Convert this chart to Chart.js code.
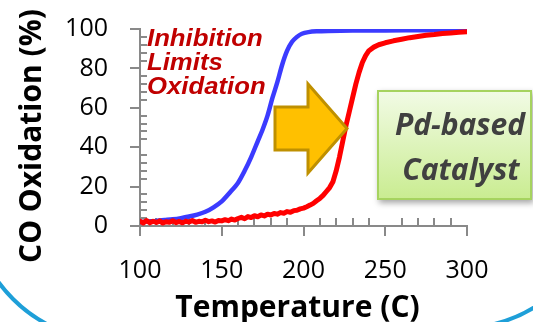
<!DOCTYPE html>
<html>
<head>
<meta charset="utf-8">
<script src="https://cdn.jsdelivr.net/npm/chart.js@4.4.1/dist/chart.umd.min.js"></script>
<style>
  html, body { margin: 0; padding: 0; background: #ffffff; overflow: hidden; }
  #wrap { position: relative; width: 533px; height: 322px; }
</style>
</head>
<body>
<div id="wrap"><canvas id="c" width="533" height="322"></canvas></div>
<script>
// Light-off curves: CO conversion vs. temperature
const tempBlue = [100, 105, 110, 115, 120, 125, 130, 135, 140, 145, 150, 155, 160, 164, 168, 172, 175, 178, 181, 184, 187, 190, 193, 196, 199, 203, 208, 215, 230, 250, 275, 300];
const oxBlue   = [2, 2.3, 2.6, 3, 3.4, 4, 4.8, 5.8, 7.2, 9.5, 12.5, 17, 22, 28, 35, 43, 49, 56, 65, 73, 82, 89, 93.5, 96, 97.6, 98.4, 98.8, 99, 99.2, 99.3, 99.4, 99.5];

const tempRed = [100, 102, 104, 106, 108, 110, 112, 114, 116, 118, 120, 122, 124, 126, 128, 130, 132, 134, 136, 138, 140, 142, 144, 146, 148,
                 150, 152, 154, 156, 158, 160, 162, 164, 166, 168, 170, 172, 174, 176, 178, 180, 182, 184, 186, 188, 190, 192, 194, 196, 198,
                 200, 202, 204, 206, 208, 210, 212, 214, 216, 218, 220, 222, 224, 226, 228, 230, 232, 234, 236, 238,
                 240, 243, 246, 250, 255, 260, 265, 270, 275, 280, 285, 290, 295, 300];
const oxRed   = [2.5, 1.5, 2.8, 1.6, 2.4, 1.8, 2.6, 1.5, 2.2, 1.9, 2.7, 1.7, 2.3, 1.6, 2.5, 2.0, 2.8, 1.9, 2.4, 2.1, 2.9, 2.2, 2.6, 2.0, 2.8,
                 2.6, 3.2, 2.7, 3.5, 3.0, 3.8, 4.4, 3.7, 4.8, 4.3, 5.2, 4.7, 5.6, 5.1, 6.0, 5.6, 6.4, 6.0, 6.8, 6.5, 7.3, 7.0, 7.8, 8.0, 8.7,
                 9.1, 9.8, 10.6, 11.5, 12.8, 14.0, 15.5, 17.5, 19.5, 22.5, 28, 35, 43, 51, 58, 65, 72, 78, 83, 86.5,
                 89, 90.8, 92, 93, 94, 94.8, 95.6, 96.2, 96.8, 97.2, 97.7, 98, 98.3, 98.6];

const xTicks = [100, 150, 200, 250, 300];
const yTicks = [0, 20, 40, 60, 80, 100];
const xMinorStep = 10;
const yMinorStep = 4;

const xTitle = 'Temperature (C)';
const yTitle = 'CO Oxidation (%)';
const noteLines = ['Inhibition', 'Limits', 'Oxidation'];
const boxLines = ['Pd-based', 'Catalyst'];

const AXIS_GREY = '#898989';
const tickFont = { family: "'Open Sans', sans-serif", size: 25 };

function toPoints(xs, ys) { return xs.map((x, i) => ({ x: x, y: ys[i] })); }

// minor tick marks, placed through the scales
const minorTicks = {
  id: 'minorTicks',
  beforeDatasetsDraw(chart) {
    const ctx = chart.ctx;
    const xs = chart.scales.x, ys = chart.scales.y;
    const area = chart.chartArea;
    ctx.save();
    ctx.strokeStyle = AXIS_GREY;
    ctx.lineWidth = 2;
    ctx.beginPath();
    for (let v = xs.min; v <= xs.max; v += xMinorStep) {
      if (xTicks.includes(v)) continue;
      const px = Math.round(xs.getPixelForValue(v));
      ctx.moveTo(px, area.bottom);
      ctx.lineTo(px, area.bottom - 8);
    }
    for (let v = ys.min; v <= ys.max; v += yMinorStep) {
      if (yTicks.includes(v)) continue;
      const py = Math.round(ys.getPixelForValue(v));
      ctx.moveTo(area.left, py);
      ctx.lineTo(area.left + 7, py);
    }
    ctx.stroke();
    ctx.restore();
  }
};

// axis titles, callout text, arrow, label box and frame
const decorations = {
  id: 'decorations',
  afterDraw(chart) {
    const ctx = chart.ctx;
    ctx.save();

    // axis titles
    ctx.fillStyle = '#000000';
    ctx.font = "bold 30px 'Open Sans', sans-serif";
    ctx.textAlign = 'center';
    ctx.textBaseline = 'alphabetic';
    ctx.fillText(xTitle, 297.5, 316.5);
    ctx.save();
    ctx.translate(41, 136);
    ctx.rotate(-Math.PI / 2);
    ctx.fillText(yTitle, 0, 0);
    ctx.restore();

    // callout text
    ctx.fillStyle = '#C00000';
    ctx.font = "italic bold 24.5px 'Liberation Sans', Arial, sans-serif";
    ctx.textAlign = 'left';
    const baselines = [46, 70, 94];
    noteLines.forEach((t, i) => {
      ctx.save();
      ctx.translate(147, baselines[i]);
      ctx.scale(1.05, 1);
      ctx.fillText(t, 0, 0);
      ctx.restore();
    });

    // block arrow
    ctx.beginPath();
    ctx.moveTo(275, 107);
    ctx.lineTo(308, 107);
    ctx.lineTo(308, 84);
    ctx.lineTo(347, 128.5);
    ctx.lineTo(308, 173);
    ctx.lineTo(308, 150);
    ctx.lineTo(275, 150);
    ctx.closePath();
    ctx.fillStyle = '#FFC000';
    ctx.fill();
    ctx.lineWidth = 3;
    ctx.strokeStyle = '#BF9000';
    ctx.lineJoin = 'miter';
    ctx.stroke();

    // label box
    ctx.save();
    ctx.shadowColor = 'rgba(0,0,0,0.35)';
    ctx.shadowBlur = 6;
    ctx.shadowOffsetX = 2;
    ctx.shadowOffsetY = 3;
    const g = ctx.createLinearGradient(0, 90, 0, 200);
    g.addColorStop(0, '#F2FBE6');
    g.addColorStop(1, '#C9EC90');
    ctx.fillStyle = g;
    ctx.fillRect(377, 90, 155, 110);
    ctx.restore();
    ctx.lineWidth = 2;
    ctx.strokeStyle = '#A6D35F';
    ctx.strokeRect(378, 91, 153, 108);

    ctx.fillStyle = '#404040';
    ctx.font = "italic bold 30px 'Open Sans', sans-serif";
    ctx.textAlign = 'center';
    ctx.fillText(boxLines[0], 460, 135);
    ctx.fillText(boxLines[1], 461, 180);

    // frame corners
    ctx.strokeStyle = '#1E9FD8';
    ctx.lineWidth = 4;
    ctx.beginPath();
    ctx.arc(112, 200, 140, Math.PI * 0.55, Math.PI * 0.95);
    ctx.stroke();
    ctx.beginPath();
    ctx.arc(460.6, 187.6, 140.5, Math.PI * 0.1, Math.PI * 0.45);
    ctx.stroke();

    ctx.restore();
  }
};

new Chart(document.getElementById('c'), {
  type: 'line',
  data: {
    datasets: [
      {
        label: 'Pd catalyst (inhibited)',
        data: toPoints(tempRed, oxRed),
        borderColor: '#FF0000',
        borderWidth: 5,
        pointRadius: 0,
        tension: 0,
        borderJoinStyle: 'round',
        borderCapStyle: 'round'
      },
      {
        label: 'Pd catalyst',
        data: toPoints(tempBlue, oxBlue),
        borderColor: '#3B3BFF',
        borderWidth: 4.5,
        pointRadius: 0,
        tension: 0.3,
        borderCapStyle: 'round'
      }
    ]
  },
  options: {
    responsive: false,
    animation: false,
    devicePixelRatio: 1,
    layout: { padding: { top: 29, right: 66, left: 0, bottom: 0 } },
    plugins: { legend: { display: false }, tooltip: { enabled: false } },
    scales: {
      x: {
        type: 'linear',
        min: 100,
        max: 300,
        afterBuildTicks(s) { s.ticks = xTicks.map(v => ({ value: v })); },
        afterFit(s) { s.height = 96; },
        ticks: { font: tickFont, color: '#000000', padding: 20, maxRotation: 0, autoSkip: false },
        grid: { drawOnChartArea: false, drawTicks: true, tickLength: 10, color: AXIS_GREY, lineWidth: 2 },
        border: { color: AXIS_GREY, width: 2 }
      },
      y: {
        type: 'linear',
        min: 0,
        max: 100,
        afterBuildTicks(s) { s.ticks = yTicks.map(v => ({ value: v })); },
        afterFit(s) { s.width = 140; s.paddingTop = 0; s.paddingBottom = 0; },
        ticks: { font: tickFont, color: '#000000', padding: 22, autoSkip: false },
        grid: { drawOnChartArea: false, drawTicks: true, tickLength: 10, color: AXIS_GREY, lineWidth: 2 },
        border: { color: AXIS_GREY, width: 2 }
      }
    }
  },
  plugins: [minorTicks, decorations]
});
</script>
</body>
</html>
